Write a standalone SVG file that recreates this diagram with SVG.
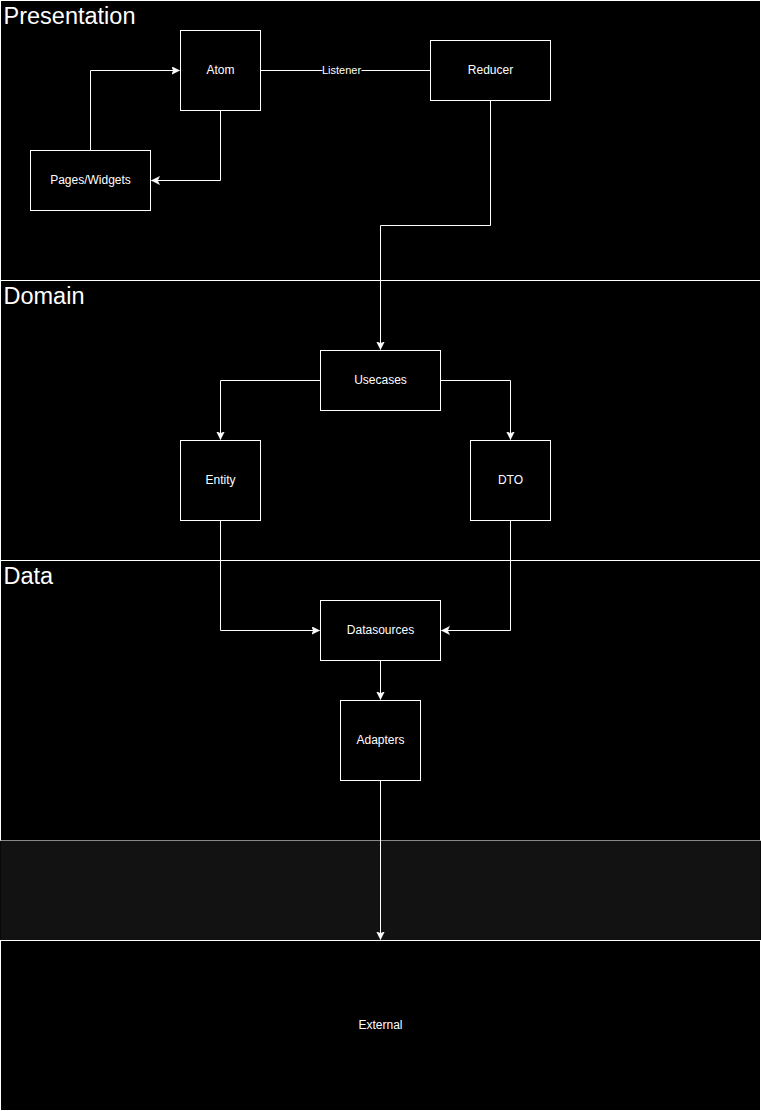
<svg xmlns="http://www.w3.org/2000/svg" width="761" height="1111" viewBox="0 0 761 1111">
<style>
.box{fill:#000;stroke:#fff;stroke-width:1}
.lbl{fill:#fff;font-family:"Liberation Sans",Arial,sans-serif;font-size:12px;text-anchor:middle}
.title{fill:#fff;font-family:"Liberation Sans",Arial,sans-serif;font-size:23.5px}
.edge{fill:none;stroke:#fff;stroke-width:1}
</style>
<defs>
<marker id="arr" markerWidth="10" markerHeight="10" refX="8" refY="4" orient="auto" markerUnits="userSpaceOnUse">
<path d="M0,0 L8,4 L0,8 L2,4 Z" fill="#fff" stroke="#fff" stroke-width="0.5"/>
</marker>
</defs>
<rect width="761" height="1111" fill="#000"/>
<g transform="translate(0.5,0.5)">
<g id="lane-presentation"><rect class="box" x="0" y="0" width="760" height="280"/><text class="title" x="3" y="23">Presentation</text></g>
<g id="lane-domain"><rect class="box" x="0" y="280" width="760" height="280"/><text class="title" x="3" y="303">Domain</text></g>
<g id="lane-data"><rect class="box" x="0" y="560" width="760" height="280"/><text class="title" x="3" y="583">Data</text></g>
<g id="gap"><rect x="0" y="840" width="760" height="100" fill="#121212" stroke="none"/></g>
<g id="external"><rect class="box" x="0" y="940" width="760" height="170"/><text class="lbl" x="380" y="1028">External</text></g>
<g id="atom"><rect class="box" x="180" y="30" width="80" height="80"/><text class="lbl" x="220" y="73">Atom</text></g>
<g id="reducer"><rect class="box" x="430" y="40" width="120" height="60"/><text class="lbl" x="490" y="73">Reducer</text></g>
<g id="pages"><rect class="box" x="30" y="150" width="120" height="60"/><text class="lbl" x="90" y="183">Pages/Widgets</text></g>
<g id="usecases"><rect class="box" x="320" y="350" width="120" height="60"/><text class="lbl" x="380" y="383">Usecases</text></g>
<g id="entity"><rect class="box" x="180" y="440" width="80" height="80"/><text class="lbl" x="220" y="483">Entity</text></g>
<g id="dto"><rect class="box" x="470" y="440" width="80" height="80"/><text class="lbl" x="510" y="483">DTO</text></g>
<g id="datasources"><rect class="box" x="320" y="600" width="120" height="60"/><text class="lbl" x="380" y="633">Datasources</text></g>
<g id="adapters"><rect class="box" x="340" y="700" width="80" height="80"/><text class="lbl" x="380" y="743">Adapters</text></g>
<g id="connectors">
<path class="edge" d="M90,150 L90,70 L179,70" marker-end="url(#arr)"/>
<path class="edge" d="M220,110 L220,180 L151,180" marker-end="url(#arr)"/>
<path class="edge" d="M260,70 L430,70"/>
<rect x="322" y="63" width="39" height="14" fill="#000"/>
<text class="lbl" x="341" y="73" style="font-size:11px">Listener</text>
<path class="edge" d="M490,100 L490,225 L380,225 L380,349" marker-end="url(#arr)"/>
<path class="edge" d="M320,380 L220,380 L220,439" marker-end="url(#arr)"/>
<path class="edge" d="M440,380 L510,380 L510,439" marker-end="url(#arr)"/>
<path class="edge" d="M220,520 L220,630 L319,630" marker-end="url(#arr)"/>
<path class="edge" d="M510,520 L510,630 L441,630" marker-end="url(#arr)"/>
<path class="edge" d="M380,660 L380,699" marker-end="url(#arr)"/>
<path class="edge" d="M380,780 L380,939" marker-end="url(#arr)"/>
</g>
</g>
</svg>
